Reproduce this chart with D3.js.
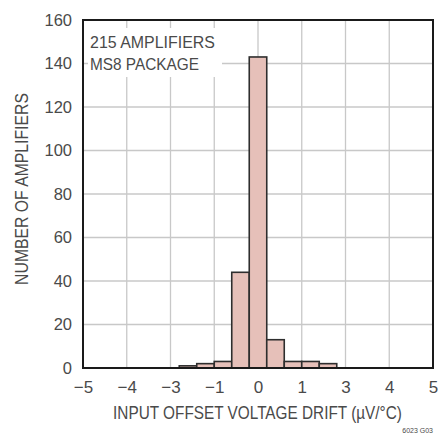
<!DOCTYPE html>
<html>
<head>
<meta charset="utf-8">
<script src="https://cdn.jsdelivr.net/npm/d3@7"></script>
<style>
  html, body { margin: 0; padding: 0; background: #fff; }
  svg text { font-family: "Liberation Sans", Arial, sans-serif; fill: #4a4a4a; }
</style>
</head>
<body>
<svg id="chart" width="448" height="439"></svg>
<script>
// Histogram bins (left edge in axis units) and amplifier counts
const binStarts = [-1.8, -1.4, -1.0, -0.6, -0.2, 0.2, 0.6, 1.0, 1.4];
const binWidth = 0.4;
const counts = [1, 2, 3, 44, 143, 13, 3, 3, 2];

// Axis ticks and their printed labels
const xTickValues = [-4, -3, -2, -1, 0, 1, 2, 3, 4];
const xTickLabels = ["\u22125", "\u22124", "\u22123", "\u22121", "0", "1", "3", "4", "5"];
const yTickValues = [0, 20, 40, 60, 80, 100, 120, 140, 160];

const noteLines = ["215 AMPLIFIERS", "MS8 PACKAGE"];

const margin = { top: 20, right: 15, bottom: 71, left: 83 };
const W = 448, H = 439;
const svg = d3.select("#chart");

const x = d3.scaleLinear().domain([-4, 4]).range([margin.left, W - margin.right]);
const y = d3.scaleLinear().domain([0, 160]).range([H - margin.bottom, margin.top]);

// Draw a text squeezed horizontally (condensed look) to a target width.
function condensedText(parent, str, size, width, cx, cy, rotate) {
  const g = parent.append("g").attr("transform", `translate(${cx},${cy}) rotate(${rotate || 0})`);
  const t = g.append("text").attr("font-size", size).attr("text-anchor", "middle").text(str);
  const natural = t.node().getComputedTextLength();
  t.attr("transform", `scale(${width / natural},1)`);
  return t;
}

// grid
const grid = svg.append("g").attr("stroke", "#c8c8c8").attr("stroke-width", 1.3);
grid.selectAll("line.v").data(xTickValues.slice(1, -1)).join("line")
  .attr("x1", d => x(d)).attr("x2", d => x(d))
  .attr("y1", y(160)).attr("y2", y(0));
grid.selectAll("line.h").data(yTickValues.slice(1, -1)).join("line")
  .attr("x1", x(-4)).attr("x2", x(4))
  .attr("y1", d => y(d)).attr("y2", d => y(d));

// bars
svg.append("g").selectAll("rect").data(counts).join("rect")
  .attr("x", (d, i) => x(binStarts[i]))
  .attr("width", (d, i) => x(binStarts[i] + binWidth) - x(binStarts[i]))
  .attr("y", d => y(d))
  .attr("height", d => y(0) - y(d))
  .attr("fill", "#e6c0b9")
  .attr("stroke", "#2e2e2e")
  .attr("stroke-width", 1.6);

// note box
const note = svg.append("g");
note.append("rect")
  .attr("x", x(-4) + 5).attr("y", y(160) + 8)
  .attr("width", 134).attr("height", 49)
  .attr("fill", "#fff");
condensedText(note, noteLines[0], 16.5, 125, x(-4) + 7 + 62.5, y(160) + 28);
condensedText(note, noteLines[1], 16.5, 109, x(-4) + 7 + 54.5, y(160) + 50);

// frame
svg.append("rect")
  .attr("x", x(-4)).attr("y", y(160))
  .attr("width", x(4) - x(-4)).attr("height", y(0) - y(160))
  .attr("fill", "none").attr("stroke", "#1a1a1a").attr("stroke-width", 2);

// axes
const xAxis = d3.axisBottom(x).tickValues(xTickValues)
  .tickFormat((d, i) => xTickLabels[i]).tickSize(0).tickPadding(13);
const gx = svg.append("g").attr("transform", `translate(0,${y(0)})`).call(xAxis);
gx.select(".domain").remove();
gx.selectAll("text").attr("font-size", 17).attr("fill", "#4a4a4a");

const yAxis = d3.axisLeft(y).tickValues(yTickValues).tickSize(0).tickPadding(11);
const gy = svg.append("g").attr("transform", `translate(${x(-4)},0)`).call(yAxis);
gy.select(".domain").remove();
gy.selectAll("text").attr("font-size", 16.5).attr("fill", "#4a4a4a");

// axis titles
condensedText(svg, "NUMBER OF AMPLIFIERS", 18, 192, 28, 189, -90);
condensedText(svg, "INPUT OFFSET VOLTAGE DRIFT (\u00b5V/\u00b0C)", 18.5, 289, 257.5, 419);

svg.append("text")
  .attr("x", 433).attr("y", 433)
  .attr("text-anchor", "end")
  .attr("font-size", 7)
  .attr("fill", "#777")
  .text("6023 G03");
</script>
</body>
</html>
